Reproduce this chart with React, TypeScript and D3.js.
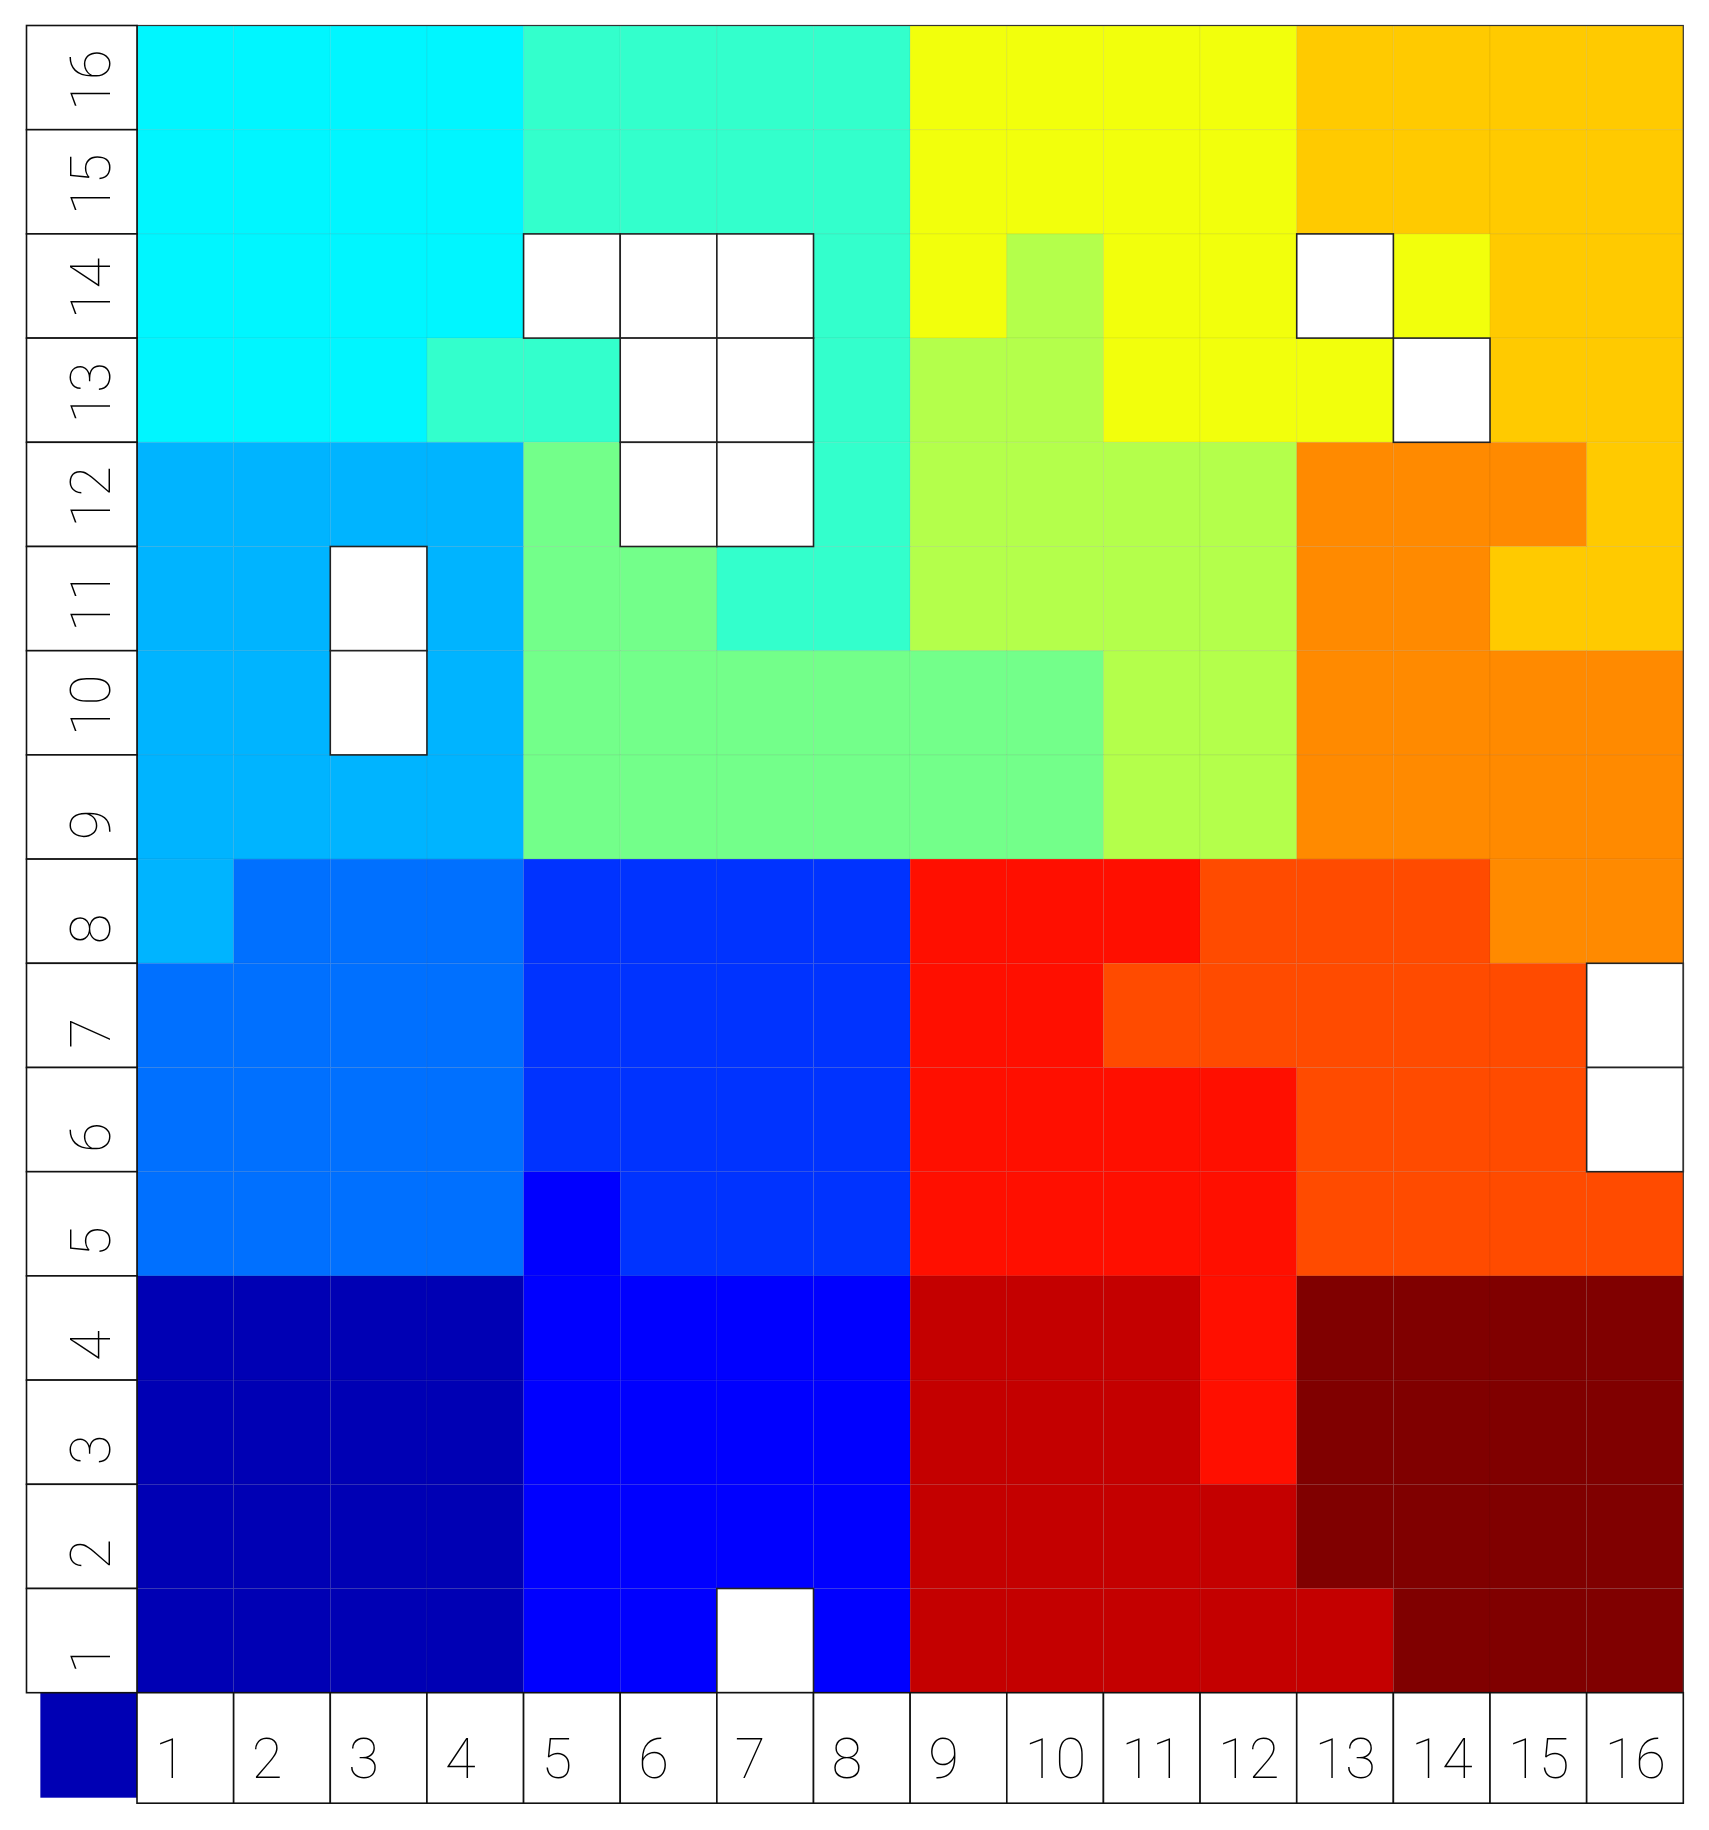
import React from "react";
import * as d3 from "d3";

const colLabels = ["1","2","3","4","5","6","7","8","9","10","11","12","13","14","15","16"];
const rowLabels = ["16","15","14","13","12","11","10","9","8","7","6","5","4","3","2","1"];

const palette = [
  "#0000B4", "#0000FF", "#0033FF", "#0070FF", "#00B4FF", "#00F6FF",
  "#33FFCC", "#73FF8A", "#B4FF4B", "#F2FF0C", "#FFCA00", "#FF8A00",
  "#FF4B00", "#FF0F00", "#C40000", "#800000",
];

const N = null;
// levels per row, top row (16) to bottom row (1); null = empty cell
const row16 = [5,5,5,5,6,6,6,6,9,9,9,9,10,10,10,10];
const row15 = [5,5,5,5,6,6,6,6,9,9,9,9,10,10,10,10];
const row14 = [5,5,5,5,N,N,N,6,9,8,9,9,N,9,10,10];
const row13 = [5,5,5,6,6,N,N,6,8,8,9,9,9,N,10,10];
const row12 = [4,4,4,4,7,N,N,6,8,8,8,8,11,11,11,10];
const row11 = [4,4,N,4,7,7,6,6,8,8,8,8,11,11,10,10];
const row10 = [4,4,N,4,7,7,7,7,7,7,8,8,11,11,11,11];
const row9  = [4,4,4,4,7,7,7,7,7,7,8,8,11,11,11,11];
const row8  = [4,3,3,3,2,2,2,2,13,13,13,12,12,12,11,11];
const row7  = [3,3,3,3,2,2,2,2,13,13,12,12,12,12,12,N];
const row6  = [3,3,3,3,2,2,2,2,13,13,13,13,12,12,12,N];
const row5  = [3,3,3,3,1,2,2,2,13,13,13,13,12,12,12,12];
const row4  = [0,0,0,0,1,1,1,1,14,14,14,13,15,15,15,15];
const row3  = [0,0,0,0,1,1,1,1,14,14,14,13,15,15,15,15];
const row2  = [0,0,0,0,1,1,1,1,14,14,14,14,15,15,15,15];
const row1  = [0,0,0,0,1,1,N,1,14,14,14,14,14,15,15,15];
const grid = [row16,row15,row14,row13,row12,row11,row10,row9,row8,row7,row6,row5,row4,row3,row2,row1];

const W = 1709, H = 1830;
const gridLeft = 137, gridRight = 1683.3, gridTop = 25.5, gridBottom = 1692.7;
const labelBand = 110.5;
const FONT = "Roboto, 'DejaVu Sans', sans-serif";

export default function App() {
  const x = d3.scaleBand<string>().domain(colLabels).range([gridLeft, gridRight]).padding(0);
  const y = d3.scaleBand<string>().domain(rowLabels).range([gridTop, gridBottom]).padding(0);
  const cw = x.bandwidth(), ch = y.bandwidth();

  const cells: { r: string; c: string; v: number | null }[] = [];
  grid.forEach((row, i) => row.forEach((v, j) => cells.push({ r: rowLabels[i], c: colLabels[j], v })));
  const filled = cells.filter((d) => d.v !== null);
  const empty = cells.filter((d) => d.v === null);

  return (
    <svg width={W} height={H} style={{ position: "absolute", left: 0, top: 0, display: "block", background: "#fff" }}>
      {filled.map((d, i) => (
        <rect key={"f" + i} x={x(d.c)} y={y(d.r)} width={cw} height={ch}
          fill={palette[d.v as number]} stroke="rgba(0,0,0,0.06)" strokeWidth={1} />
      ))}
      {empty.map((d, i) => (
        <rect key={"e" + i} x={x(d.c)} y={y(d.r)} width={cw} height={ch}
          fill="#fff" stroke="#222" strokeWidth={1.6} />
      ))}
      <rect x={gridLeft} y={gridTop} width={gridRight - gridLeft} height={gridBottom - gridTop}
        fill="none" stroke="#333" strokeWidth={1.2} />
      {/* key square */}
      <rect x={gridLeft - cw} y={gridBottom} width={cw} height={ch + 0.8} fill={palette[0]} />
      {/* row labels */}
      {rowLabels.map((r) => (
        <g key={"rl" + r}>
          <rect x={gridLeft - labelBand} y={y(r)} width={labelBand} height={ch} fill="#fff" stroke="#111" strokeWidth={1.6} />
          <text transform={`translate(${gridLeft - 27},${(y(r) as number) + ch - 19}) rotate(-90)`}
            fontFamily={FONT} fontWeight={100} fontSize={56} fill="#000">{r}</text>
        </g>
      ))}
      {/* column labels */}
      {colLabels.map((c) => (
        <g key={"cl" + c}>
          <rect x={x(c)} y={gridBottom} width={cw} height={labelBand} fill="#fff" stroke="#111" strokeWidth={1.6} />
          <text x={(x(c) as number) + 18} y={gridBottom + 85} fontFamily={FONT} fontWeight={100} fontSize={56} fill="#000">{c}</text>
        </g>
      ))}
    </svg>
  );
}
